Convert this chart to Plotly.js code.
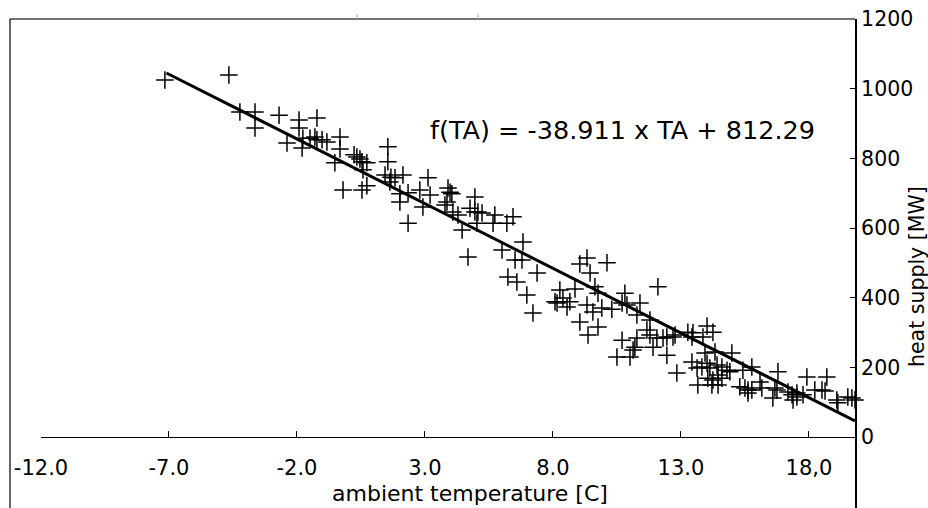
<!DOCTYPE html>
<html><head><meta charset="utf-8">
<script src="https://cdn.plot.ly/plotly-3.0.1.min.js"></script>
<style>html,body{margin:0;padding:0;background:#fff;} #chart{width:928px;height:508px;}</style>
</head><body><div id="chart"></div>
<script>
// ambient temperature [C] of each observation
const tempC = [
 -7.16,-4.66,-4.23,-3.64,-3.64,-2.70,-2.39,-1.92,-1.92,-1.80,
 -1.77,-1.49,-1.30,-1.22,-1.22,-1.02,-0.83,-0.32,-0.32,-0.52,0.23,0.34,0.46,0.54,0.73,0.58,-0.20,0.54,0.73,1.55,1.55,1.44,1.67,1.83,1.63,2.14,2.02,2.02,2.34,2.34,2.80,3.12,3.20,2.92,
 3.90,3.98,4.05,3.86,3.78,4.95,4.09,4.29,4.76,4.95,5.07,5.23,5.73,5.66,6.20,6.44,5.03,4.45,6.83,6.01,4.68,6.52,6.79,7.38,6.24,6.59,6.98,7.22,8.27,8.39,8.16,8.55,
 9.33,9.05,10.11,9.45,12.10,9.64,8.86,9.76,10.81,8.08,8.66,9.33,9.56,9.91,10.30,10.70,10.89,11.40,11.28,11.79,9.05,9.76,9.37,11.67,11.79,12.06,12.30,10.70,11.28,11.20,11.91,12.45,12.69,13.27,10.50,11.01,12.45,12.84,11.13,
 12.77,13.47,13.43,14.02,14.25,13.86,13.66,13.94,14.33,14.99,13.43,13.63,13.82,14.02,14.13,14.41,14.60,14.80,14.91,14.05,14.25,14.45,14.60,14.21,14.45,15.42,15.77,16.79,15.30,15.50,15.62,15.77,15.62,16.09,16.16,16.67,16.59,16.75,17.18,17.34,17.38,17.53,17.77,17.92,
 18.70,18.23,18.51,18.63,17.53,19.09,19.13,19.52,19.68,19.80
];
// heat supply [MW] of each observation
const heatMW = [
 1025,1039,933,933,887,924,844,910,887,830,
 858,858,861,916,853,853,847,861,827,787,810,804,798,790,787,767,709,709,721,833,790,752,746,744,732,752,698,675,701,614,709,744,695,660,
 715,703,698,675,666,689,646,637,657,646,646,643,637,614,614,632,614,594,560,537,517,508,508,471,459,445,408,356,422,399,385,373,
 514,497,500,471,431,431,425,413,413,388,388,379,359,370,367,385,379,385,350,336,330,316,293,307,293,284,284,278,284,258,258,287,287,301,230,230,235,184,250,
 293,299,287,319,301,287,149,241,244,241,215,198,201,212,198,207,201,192,187,169,164,178,169,149,149,192,201,187,144,141,135,135,126,158,141,141,112,135,129,121,106,126,121,172,
 172,135,135,132,115,106,98,115,112,106
];
// fitted regression line end points
const fitX = [-7.1, 19.8];
const fitY = [1045, 46];
const xTickVals = [-12, -7, -2, 3, 8, 13, 18];
const xTickText = ["-12.0", "-7.0", "-2.0", "3.0", "8.0", "13.0", "18,0"];
const yTickVals = [0, 200, 400, 600, 800, 1000, 1200];
const equationText = "f(TA) = -38.911 x TA + 812.29";
const xTitle = "ambient temperature [C]";
const yTitle = "heat supply [MW]";

const FONT = "DejaVu Sans, Liberation Sans, sans-serif";
const lx = (10 - 41) / 814;

const traces = [
  {x: tempC, y: heatMW, type: "scatter", mode: "markers", cliponaxis: false,
   marker: {symbol: "cross-thin", size: 12.5, color: "#000", line: {color: "#000", width: 1.5}},
   hoverinfo: "x+y", showlegend: false},
  {x: fitX, y: fitY, type: "scatter", mode: "lines", cliponaxis: false,
   line: {color: "#000", width: 3}, showlegend: false}
];

const layout = {
  width: 928, height: 508,
  margin: {l: 41, r: 73, t: 19, b: 0},
  paper_bgcolor: "#fff", plot_bgcolor: "#fff",
  font: {family: FONT, color: "#000"},
  showlegend: false,
  xaxis: {
    range: [-12, 19.8], showgrid: false, zeroline: false,
    showline: true, linecolor: "#000", linewidth: 1.3,
    ticks: "inside", ticklen: 6, tickwidth: 1, tickcolor: "#000",
    tickmode: "array", tickvals: xTickVals, ticktext: xTickText,
    tickfont: {family: FONT, size: 21, color: "#000"},
    anchor: "free", position: 71 / 489, side: "bottom",
    ticklabelstandoff: 11
  },
  yaxis: {
    range: [-203.8, 1200], side: "right", showgrid: false, zeroline: false,
    showline: true, linecolor: "#000", linewidth: 2,
    ticks: "inside", ticklen: 5, tickwidth: 1, tickcolor: "#000",
    tickmode: "array", tickvals: yTickVals,
    tickfont: {family: FONT, size: 20.5, color: "#000"}
  },
  shapes: [
    {type: "line", xref: "paper", yref: "paper", x0: lx, x1: 1, y0: 1, y1: 1, line: {color: "#444", width: 1.5}},
    {type: "line", xref: "paper", yref: "paper", x0: lx, x1: lx, y0: 0, y1: 1, line: {color: "#333", width: 1.5}},
    {type: "line", xref: "paper", yref: "paper", x0: (357 - 41) / 814, x1: (357 - 41) / 814, y0: 1, y1: 1 + 5 / 489, line: {color: "#aaa", width: 1}},
    {type: "line", xref: "paper", yref: "paper", x0: (478 - 41) / 814, x1: (478 - 41) / 814, y0: 1, y1: 1 + 5 / 489, line: {color: "#aaa", width: 1}}
  ],
  annotations: [
    {x: 10.7, y: 881, xref: "x", yref: "y", text: equationText, showarrow: false,
     font: {family: FONT, size: 25.5, color: "#000"}},
    {x: (470 - 41) / 814, y: (508 - 493) / 489, xref: "paper", yref: "paper", text: xTitle,
     showarrow: false, xanchor: "center", yanchor: "middle",
     font: {family: FONT, size: 22, color: "#000"}},
    {x: (917 - 41) / 814, y: (508 - 276) / 489, xref: "paper", yref: "paper", text: yTitle,
     showarrow: false, textangle: -90, xanchor: "center", yanchor: "middle",
     font: {family: FONT, size: 20.5, color: "#000"}}
  ]
};

Plotly.newPlot("chart", traces, layout, {displayModeBar: false, staticPlot: true});
</script>
</body></html>
